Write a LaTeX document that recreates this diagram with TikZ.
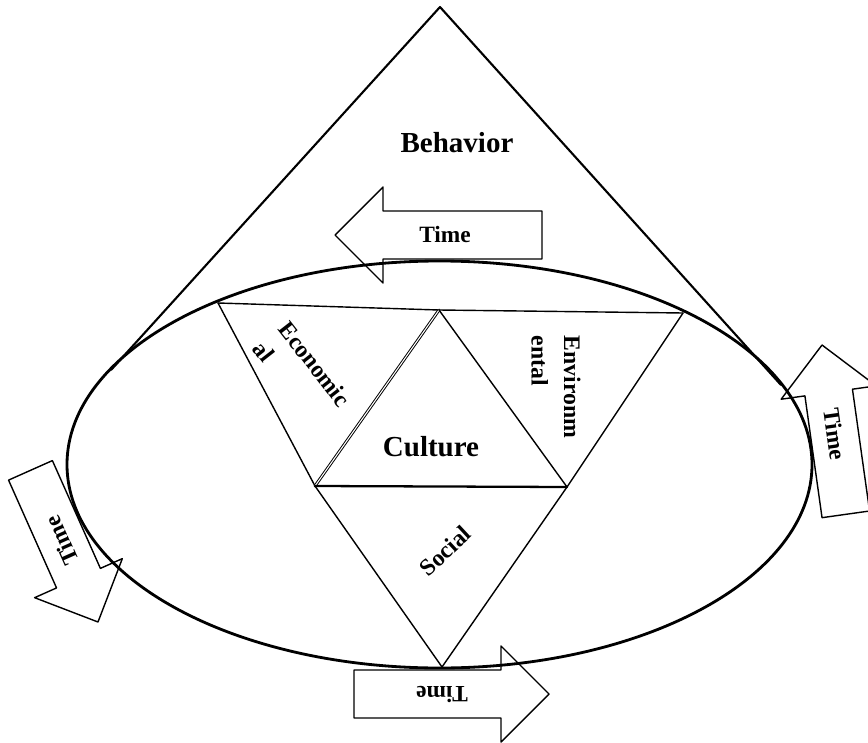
\documentclass[tikz,border=0pt]{standalone}
\usepackage{fontspec}
\setmainfont{Liberation Serif}

\begin{document}
\begin{tikzpicture}[x=0.02cm,y=-0.02cm,line cap=round,line join=round]
  % ----- styles -----
  \tikzset{
    cone/.style={draw=black,line width=1.2pt},
    rim/.style={draw=black,line width=1.6pt},
    part/.style={draw=black,line width=0.8pt},
    tarrow/.style={draw=black,line width=0.8pt},
    biglabel/.style={font=\bfseries\fontsize{16.5}{19}\selectfont,inner sep=0pt},
    smalllabel/.style={font=\bfseries\fontsize{13.5}{18.5}\selectfont,inner sep=0pt,align=left},
    timelabel/.style={font=\bfseries\fontsize{13.3}{16}\selectfont,inner sep=0pt}
  }

  % ----- frame -----
  \useasboundingbox (0,0) rectangle (868,743);
  \clip (0,0) rectangle (868,743);

  % ----- geometry -----
  \coordinate (apex) at (440,7);
  \coordinate (coneL) at (111,370);
  \coordinate (coneR) at (781,385);
  \coordinate (mid) at (439.5,464.5);   % centre of the ellipse
  \coordinate (ecoL) at (218,303);
  \coordinate (top) at (439,310);
  \coordinate (envR) at (683,313);
  \coordinate (culL) at (315,486);
  \coordinate (culR) at (567,487);
  \coordinate (socB) at (442,667);

  % ----- cone and ellipse -----
  \draw[cone] (coneL) -- (apex) -- (coneR);
  \draw[rim] (mid) ellipse [x radius=372.5, y radius=203.5];

  % ----- outer triangles -----
  \draw[part] (ecoL) -- (top) -- (envR);
  \draw[part] (ecoL) -- (culL) -- (socB) -- (culR) -- (envR);

  % ----- culture triangle -----
  \draw[draw=black,line width=0.55pt,double,double distance=0.6pt] (top) -- (culL);
  \draw[part] (top) -- (culR);
  \draw[draw=black,line width=1.3pt] (culL) -- (culR);

  % ----- labels -----
  \node[biglabel] (behavior) at (457,143) {Behavior};
  \node[biglabel] (culture) at (431,447) {Culture};
  \node[smalllabel,rotate=-52] (econ) at (302,374) {Economic\\al};
  \node[smalllabel,rotate=-90] (envir) at (556,387) {Environm\\ental};
  \node[smalllabel,rotate=43] (social) at (445,551) {Social};

  % ----- time arrows (tip x / tip y / angle / length / text offset) -----
  \foreach \tx/\ty/\ang/\len/\toff/\nm in {335/235/0/207/110/timeT,
      822/345/-82/171/90/timeR, 549/694/180/195/107/timeB, 98/622/114/166/89/timeL}{
    \begin{scope}[shift={(\tx,\ty)},rotate=\ang]
      \draw[tarrow] (0,0) -- (48,-48) -- (48,-24) -- (\len,-24)
        -- (\len,24) -- (48,24) -- (48,48) -- cycle;
      \node[timelabel,rotate=\ang] (\nm) at (\toff,0) {Time};
    \end{scope}
  }

\end{tikzpicture}
\end{document}
